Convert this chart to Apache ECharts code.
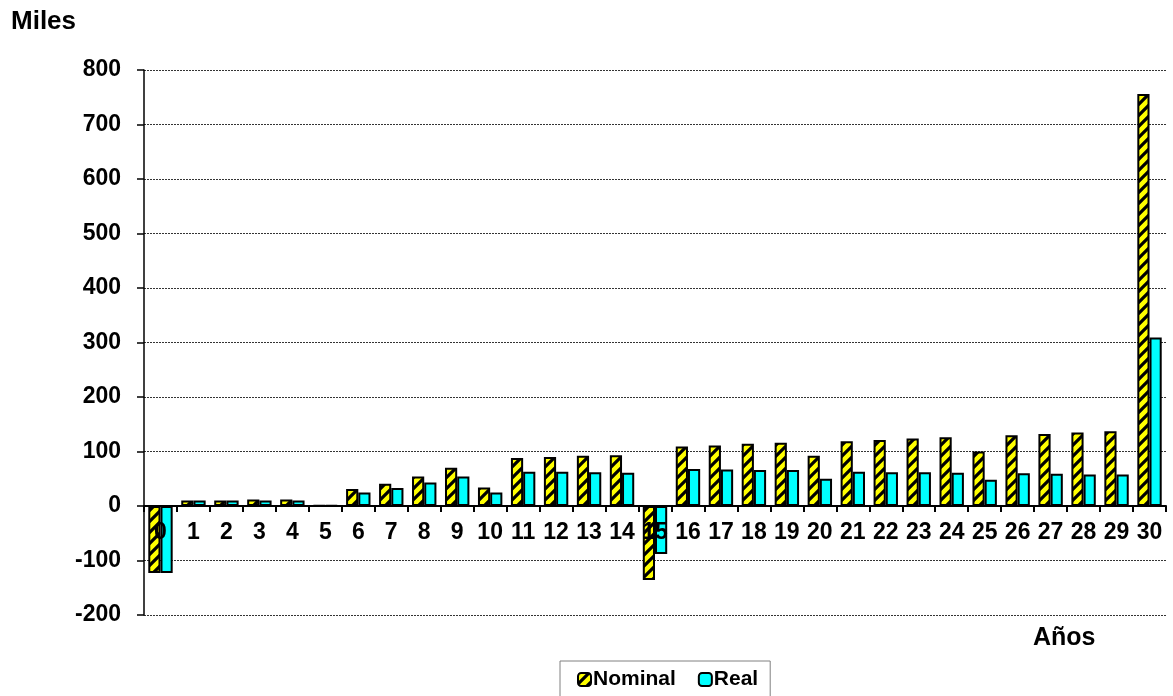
<!DOCTYPE html>
<html><head><meta charset="utf-8">
<script src="https://cdn.jsdelivr.net/npm/echarts@6/dist/echarts.min.js"></script>
<style>html,body{margin:0;padding:0;background:#fff}#c{width:1173px;height:696px}</style>
</head><body><div id="c"></div>
<script>
const categories = ['0','1','2','3','4','5','6','7','8','9','10','11','12','13','14','15','16','17','18','19','20','21','22','23','24','25','26','27','28','29','30'];
const nominal = [-123,10,10,12,12,1,31,41,54,70,34,88,90,92,93,-136,109,111,114,116,92,119,121,124,126,100,130,132,135,137,756];
const real = [-123,10,10,10,10,1,25,33,43,54,25,63,63,62,61,-88,68,67,66,66,50,63,62,62,61,48,60,59,58,58,309];
const yTicks = [-200,-100,0,100,200,300,400,500,600,700,800];

function stripePattern(){
  const s = 11;
  const c = document.createElement('canvas');
  c.width = s; c.height = s;
  const g = c.getContext('2d');
  g.fillStyle = '#FFFF00'; g.fillRect(0,0,s,s);
  g.strokeStyle = '#000'; g.lineWidth = 3.2;
  g.beginPath();
  g.moveTo(-3,s+3); g.lineTo(s+3,-3);
  g.moveTo(-3,3); g.lineTo(3,-3);
  g.moveTo(s-3,s+3); g.lineTo(s+3,s-3);
  g.stroke();
  return {image: c, repeat: 'repeat'};
}
const pat = stripePattern();
const font = 'Liberation Sans, Arial, sans-serif';
const chart = echarts.init(document.getElementById('c'), null, {renderer:'canvas'});
chart.setOption({
  animation:false,
  grid:{left:144,right:7,top:70,bottom:81,containLabel:false},
  legend:{
    top:661, left:560,
    data:['Nominal','Real'],
    borderColor:'#808080', borderWidth:1, padding:[8,12,8,17],
    itemWidth:13, itemHeight:13, itemGap:22,
    textStyle:{fontFamily:font,fontWeight:'bold',fontSize:21,color:'#000',padding:[0,0,0,-3]}
  },
  graphic:[
    {type:'text',left:11,top:9,style:{text:'Miles',font:'bold 26px '+font,fill:'#000'}},
    {type:'text',left:1033,top:626,style:{text:'Años',font:'bold 25px '+font,fill:'#000'}}
  ],
  xAxis:{
    type:'category', data:categories,
    axisLine:{onZero:true,lineStyle:{color:'#000',width:2}},
    axisTick:{show:true,length:6,lineStyle:{color:'#000',width:2}},
    axisLabel:{fontFamily:font,fontWeight:'bold',fontSize:23,color:'#000',margin:-94,interval:0},
    z:5
  },
  yAxis:{
    type:'value', min:-200, max:800, interval:100,
    axisLine:{show:true,lineStyle:{color:'#000',width:1.5}},
    axisTick:{show:true,length:7,lineStyle:{color:'#000',width:1.5}},
    axisLabel:{fontFamily:font,fontWeight:'bold',fontSize:23,color:'#000',margin:23,
      formatter:v=>yTicks.includes(v)?String(v):''},
    splitLine:{show:true,lineStyle:{color:'#000',width:0.8,type:[2,1]}}
  },
  series:[
    {name:'Nominal',type:'bar',data:nominal,barGap:'0%',barCategoryGap:'26%',
     itemStyle:{color:pat,borderColor:'#000',borderWidth:2}},
    {name:'Real',type:'bar',data:real,
     itemStyle:{color:'#00FFFF',borderColor:'#000',borderWidth:2}}
  ]
});
</script></body></html>
